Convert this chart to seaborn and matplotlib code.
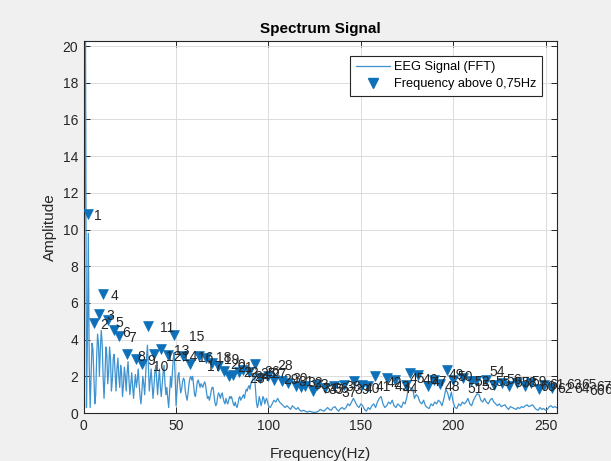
import numpy as np
import pandas as pd
import matplotlib
matplotlib.use("Agg")
import matplotlib.pyplot as plt
import seaborn as sns
from matplotlib.lines import Line2D

# ---------------- data ----------------
# FFT amplitude, 0.5 Hz steps from 0 to 49.5 Hz
amp_0_50 = [3.4, 12.0, 20.2, 0.3, 4.0, 9.8, 2.5, 0.3, 2.0, 3.8, 3.5, 2.0, 0.5, 1.0, 3.0, 4.3, 3.8, 2.0, 3.5, 4.5,
            3.8, 2.0, 0.8, 2.0, 3.6, 3.2, 1.6, 2.2, 3.6, 3.0, 1.2, 1.8, 3.0, 3.2, 2.2, 1.2, 2.4, 3.0, 2.0, 1.4,
            2.6, 2.2, 0.9, 1.5, 2.5, 2.0, 1.2, 2.2, 2.8, 1.8, 1.0, 1.6, 2.2, 1.4, 0.8, 1.6, 2.1, 1.4, 1.8, 2.4,
            1.6, 0.9, 0.5, 1.2, 2.0, 1.6, 1.0, 2.0, 3.0, 3.7, 2.6, 1.2, 1.8, 2.4, 1.6, 0.8, 1.4, 2.2, 2.6, 1.8,
            1.0, 1.8, 2.4, 1.4, 0.9, 1.6, 2.2, 2.6, 1.6, 1.0, 1.4, 0.8, 0.3, 1.2, 2.0, 1.4, 2.2, 3.0, 3.3, 2.0]
# FFT amplitude, 0.5 Hz steps from 50 to 99.5 Hz
amp_50_100 = [0.4, 1.2, 2.0, 2.2, 1.6, 1.1, 1.3, 1.7, 1.9, 1.8, 1.2, 0.9, 0.7, 1.1, 1.6, 1.9, 2.0, 1.8, 2.0, 1.5,
              1.0, 0.9, 1.3, 1.7, 1.8, 1.6, 1.4, 1.6, 1.5, 1.4, 1.6, 1.7, 1.5, 1.1, 0.8, 0.9, 0.7, 0.9, 1.2, 1.4,
              1.4, 1.0, 0.6, 0.4, 0.5, 0.9, 1.1, 1.0, 0.8, 1.0, 1.1, 0.8, 0.6, 0.5, 0.8, 0.6, 0.5, 0.7, 0.9, 0.8,
              0.9, 0.7, 0.5, 0.4, 0.6, 0.4, 0.3, 0.5, 0.8, 0.9, 0.7, 0.8, 0.9, 1.0, 0.8, 1.1, 1.3, 1.2, 1.4, 1.5,
              1.3, 1.6, 1.7, 1.8, 2.1, 2.0, 1.3, 0.6, 0.3, 0.5, 0.9, 0.7, 0.4, 0.6, 0.9, 0.8, 0.5, 0.7, 0.8, 0.6]
# FFT amplitude, 1 Hz steps from 100 to 256 Hz
amp_100_256 = [0.4, 0.3, 0.5, 0.7, 0.6, 0.8, 0.6, 0.5, 0.4, 0.3, 0.4, 0.3, 0.2, 0.4, 0.3, 0.2, 0.3, 0.15, 0.1, 0.15,
               0.1, 0.05, 0.1, 0.08, 0.05, 0.03, 0.05, 0.1, 0.2, 0.15, 0.1, 0.2, 0.3, 0.2, 0.15, 0.3, 0.35, 0.2, 0.1, 0.25,
               0.3, 0.2, 0.3, 0.5, 0.4, 0.6, 0.8, 0.6, 0.4, 0.3, 0.5, 0.4, 0.2, 0.1, 0.3, 0.2, 0.4, 0.5, 0.3, 0.6,
               0.8, 0.9, 0.5, 0.3, 0.4, 0.6, 0.5, 0.7, 0.4, 0.3, 0.5, 0.4, 0.3, 0.6, 0.5, 0.9, 1.5, 1.3, 1.4, 0.8,
               1.0, 0.9, 0.6, 0.5, 0.7, 0.4, 0.3, 0.25, 0.5, 0.4, 0.6, 0.5, 0.7, 0.6, 0.4, 0.8, 1.3, 1.1, 0.7, 1.15,
               0.6, 0.3, 0.25, 0.5, 0.4, 0.6, 0.5, 0.6, 0.8, 0.5, 0.4, 0.7, 0.9, 1.05, 1.0, 0.7, 0.6, 0.8, 0.6, 0.5,
               0.7, 0.8, 0.6, 0.5, 0.4, 0.5, 0.35, 0.4, 0.45, 0.3, 0.2, 0.35, 0.3, 0.25, 0.2, 0.3, 0.25, 0.35, 0.3, 0.4,
               0.45, 0.35, 0.4, 0.45, 0.3, 0.2, 0.15, 0.3, 0.2, 0.25, 0.15, 0.2, 0.35, 0.4, 0.3, 0.35, 0.3]

# detected peaks (frequency in Hz, marker amplitude)
peak_freq = [2.2, 5.5, 8.2, 10.4, 13.0, 16.2, 19.2, 23.5, 28.4, 31.3,
             34.6, 38.0, 41.7, 45.5, 49.0, 53.5, 57.8, 62.3, 66.2, 69.4,
             72.6, 76.0, 78.9, 81.0, 84.0, 86.3, 89.4, 92.6, 95.7, 100.0,
             103.0, 107.3, 110.5, 114.7, 117.5, 120.0, 124.2, 126.3, 130.5, 135.7,
             141.0, 146.3, 150.5, 154.0, 157.8, 164.1, 168.3, 174.7, 176.8, 181.0,
             186.2, 189.4, 193.0, 196.8, 200.0, 205.2, 209.4, 212.5, 217.8, 222.0,
             226.2, 230.4, 234.6, 238.8, 242.0, 246.2, 249.4, 253.6]
peak_amp = [10.85, 4.9, 5.4, 6.5, 5.05, 4.5, 4.2, 3.2, 2.95, 2.65,
            4.75, 3.2, 3.5, 3.15, 4.25, 3.1, 2.65, 3.1, 3.0, 2.75,
            2.55, 2.3, 2.0, 2.1, 2.25, 2.35, 2.25, 2.7, 1.9, 2.0,
            1.8, 1.75, 1.65, 1.45, 1.4, 1.45, 1.2, 1.55, 1.35, 1.45,
            1.55, 1.75, 1.55, 1.45, 2.0, 1.9, 1.8, 1.55, 2.2, 2.1,
            1.45, 1.8, 1.6, 2.35, 1.8, 1.9, 1.75, 1.75, 1.8, 1.55,
            1.65, 1.45, 1.65, 1.45, 1.65, 1.3, 1.55, 1.35]
peak_labels = [str(i + 1) for i in range(len(peak_freq))]

x_ticks = [0, 50, 100, 150, 200, 250]
y_ticks = [0, 2, 4, 6, 8, 10, 12, 14, 16, 18, 20]

# ---------------- build frames ----------------
freq = np.concatenate([np.arange(len(amp_0_50)) * 0.5,
                       50 + np.arange(len(amp_50_100)) * 0.5,
                       100 + np.arange(len(amp_100_256)) * 1.0])
amp = np.concatenate([amp_0_50, amp_50_100, amp_100_256])
df_line = pd.DataFrame({"freq": freq, "amp": amp})
df_peaks = pd.DataFrame({"freq": peak_freq, "amp": peak_amp, "label": peak_labels})

# ---------------- plot ----------------
plt.rcParams["font.family"] = ["Liberation Sans", "DejaVu Sans"]
line_col = "#3d92d0"
mark_col = "#0d70b8"
txt_col = "#262626"

fig = plt.figure(figsize=(6.11, 4.61), dpi=100, facecolor="#f0f0f0")
ax = fig.add_axes([0.137, 0.104, 0.774, 0.806])
ax.set_facecolor("white")

sns.lineplot(data=df_line, x="freq", y="amp", ax=ax, color=line_col, linewidth=0.9,
             sort=False, estimator=None, legend=False, zorder=2)
sns.scatterplot(data=df_peaks, x="freq", y="amp", ax=ax, marker="v", s=50,
                color=mark_col, edgecolor=mark_col, linewidth=0.5, legend=False, zorder=3)

for f, a, lab in zip(df_peaks["freq"], df_peaks["amp"], df_peaks["label"]):
    ax.text(f * 1.1 + 3, a - 0.12, lab, fontsize=10, color=txt_col,
            ha="left", va="center", clip_on=False, zorder=4)

ax.set_xlim(0, 256)
ax.set_ylim(0, 20.25)
ax.set_xticks(x_ticks)
ax.set_yticks(y_ticks)
ax.grid(True, color="#dcdcdc", linewidth=0.7)
ax.set_axisbelow(True)
ax.tick_params(direction="in", top=True, right=True, length=4, width=0.7,
               labelsize=10, colors=txt_col, pad=4)
for sp in ax.spines.values():
    sp.set_color(txt_col)
    sp.set_linewidth(0.8)

ax.set_title("Spectrum Signal", fontsize=11, fontweight="bold", color="black", pad=6)
ax.set_xlabel("Frequency(Hz)", fontsize=11, color=txt_col, labelpad=10)
ax.set_ylabel("Amplitude", fontsize=11, color=txt_col, labelpad=4)

handles = [Line2D([0], [0], color=line_col, lw=0.9),
           Line2D([0], [0], color=mark_col, marker="v", linestyle="none", markersize=7)]
leg = ax.legend(handles, ["EEG Signal (FFT)", "Frequency above 0,75Hz"],
                loc="upper right", bbox_to_anchor=(0.969, 0.962), borderaxespad=0,
                fontsize=9.2, frameon=True, fancybox=False, framealpha=1,
                edgecolor=txt_col, borderpad=0.45, handlelength=2.7,
                handletextpad=0.3, labelspacing=0.4)
leg.get_frame().set_linewidth(0.8)

fig.savefig("out.png", dpi=100, facecolor=fig.get_facecolor())
